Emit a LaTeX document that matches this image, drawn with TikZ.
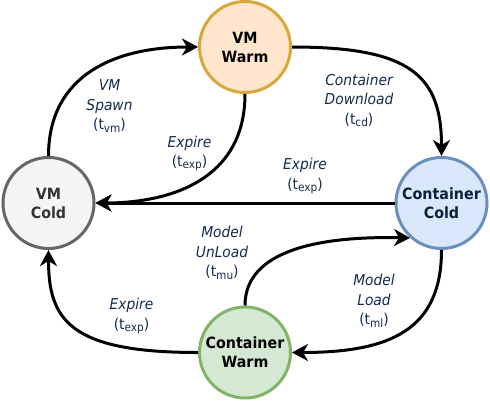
\documentclass[tikz,border=0pt]{standalone}
\usepackage{fontspec}
\setmainfont{DejaVu Sans}[FakeStretch=0.92]
\usetikzlibrary{arrows.meta}
\definecolor{lbl}{HTML}{142C4F}
\definecolor{vwf}{HTML}{FFE6CC}\definecolor{vwd}{HTML}{D6A93A}
\definecolor{vcf}{HTML}{F5F5F5}\definecolor{vcd}{HTML}{666666}
\definecolor{ccf}{HTML}{DAE8FC}\definecolor{ccd}{HTML}{6C8EBF}
\definecolor{cwf}{HTML}{D5E8D4}\definecolor{cwd}{HTML}{82B366}
\newcommand\sbs[1]{\raisebox{-0.3ex}{\fontsize{11.5}{10}\selectfont #1}}
\begin{document}
\begin{tikzpicture}[x=1pt,y=-1pt,
  st/.style={circle,minimum size=91pt,inner sep=0pt,line width=3pt,align=center,font=\fontsize{15.5}{19}\selectfont\bfseries},
  tr/.style={line width=3pt,-{Stealth[length=16pt,width=17pt,inset=5pt]}},
  lb/.style={align=center,text=lbl,font=\fontsize{15}{19.5}\selectfont\itshape}]
\useasboundingbox[fill=white] (0,0) rectangle (490,402);
\node[st,draw=vwd,fill=vwf] (vw) at (245,47) {VM\\Warm};
\node[st,draw=vcd,fill=vcf,text=black!80] (vc) at (48.5,203) {VM\\Cold};
\node[st,draw=ccd,fill=ccf,text={rgb,255:red,13;green,31;blue,60}] (cc) at (441.5,203) {Container\\Cold};
\node[st,draw=cwd,fill=cwf] (cw) at (245,352.5) {Container\\Warm};
\draw[tr] (vc.north) .. controls (48.5,75) and (115,47) .. (vw.west);
\draw[tr] (vw.south) .. controls (245,180) and (170,203) .. (vc.east);
\draw[tr] (vw.east) .. controls (410,47) and (441.5,75) .. (cc.north);
\draw[tr] (cc.west) -- (vc.east);
\draw[tr] (cc.south) .. controls (441.5,330) and (390,352.5) .. (cw.east);
\draw[tr] (cw.north) .. controls (245,250) and (320,236) .. (cc.228);
\draw[tr] (cw.west) .. controls (70,352.5) and (48.5,320) .. (vc.south);
\node[lb] (l1) at (109.5,106) {VM\\Spawn\\\textup{(t\sbs{vm})}};
\node[lb] (l2) at (189.5,153.5) {Expire\\\textup{(t\sbs{exp})}};
\node[lb] (l3) at (359,100.5) {Container\\Download\\\textup{(t\sbs{cd})}};
\node[lb] (l4) at (305,176) {Expire\\\textup{(t\sbs{exp})}};
\node[lb] (l5) at (222,253) {Model\\UnLoad\\\textup{(t\sbs{mu})}};
\node[lb] (l6) at (374,301) {Model\\Load\\\textup{(t\sbs{ml})}};
\node[lb] (l7) at (131.5,316) {Expire\\\textup{(t\sbs{exp})}};
\end{tikzpicture}
\end{document}
